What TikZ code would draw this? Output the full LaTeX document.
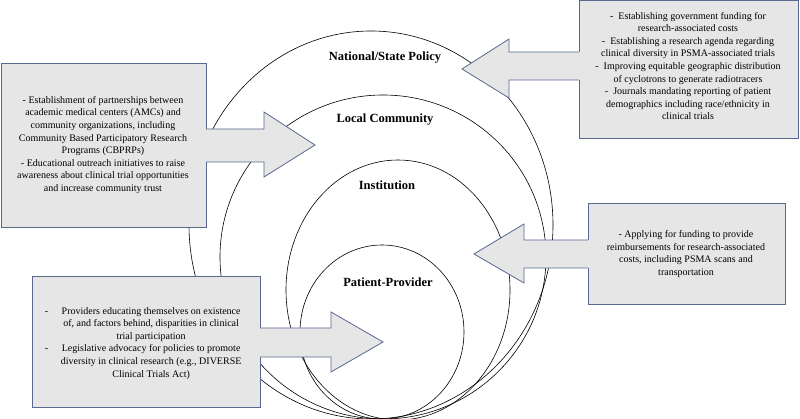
\documentclass[tikz,border=0pt]{standalone}
\usepackage{fontspec}
\usepackage{array}
\setmainfont{Liberation Serif}
\definecolor{bfill}{HTML}{E6E6E6}
\definecolor{bline}{HTML}{5A6890}
\begin{document}
\begin{tikzpicture}[x=1pt,y=-1pt,
  ring/.style={draw=black,line width=0.6pt},
  lvl/.style={font=\fontsize{12.5}{14}\selectfont\bfseries},
  box/.style={draw=bline,fill=bfill,line width=0.8pt},
  txt/.style={font=\fontsize{10}{12.6}\selectfont,align=center},
  arr/.style={fill=bfill},
  arrl/.style={draw=bline,line width=0.8pt,line join=miter}]
\useasboundingbox (0,0) rectangle (800,419);
\fill[white] (0,0) rectangle (800,419);
\draw[ring] (371,225) ellipse [x radius=182pt, y radius=194pt];
\draw[ring] (383,257) ellipse [x radius=163pt, y radius=162pt];
\draw[ring] (398,290) ellipse [x radius=112pt, y radius=130pt];
\draw[ring] (382,332) ellipse [x radius=82pt, y radius=87pt];
\node[lvl] (nat) at (385,58) {National/State Policy};
\node[lvl] (loc) at (385,120) {Local Community};
\node[lvl] (ins) at (387,185) {Institution};
\node[lvl] (pat) at (388,282) {Patient-Provider};
% top-right box and arrow
\draw[box] (579,0) rectangle (798,138);
\node[txt] (b1) at (688,66) {-\ \ Establishing government funding for\\research-associated costs\\-\ \ Establishing a research agenda regarding\\clinical diversity in PSMA-associated trials\\-\ \ Improving equitable geographic distribution\\of cyclotrons to generate radiotracers\\-\ \ Journals mandating reporting of patient\\demographics including race/ethnicity in\\clinical trials};
\fill[arr] (580,52) -- (509,52) -- (509,39) -- (462,69) -- (509,98) -- (509,80) -- (580,80) -- cycle;
\draw[arrl] (579,52) -- (509,52) -- (509,39) -- (462,69) -- (509,98) -- (509,80) -- (579,80);
% left box and arrow
\draw[box] (1,63) rectangle (206,227);
\node[txt] (b2) at (103,145) {- Establishment of partnerships between\\academic medical centers (AMCs) and\\community organizations, including\\Community Based Participatory Research\\Programs (CBPRPs)\\- Educational outreach initiatives to raise\\awareness about clinical trial opportunities\\and increase community trust};
\fill[arr] (205,129) -- (264,129) -- (264,112) -- (315,145) -- (264,177) -- (264,162) -- (205,162) -- cycle;
\draw[arrl] (206,129) -- (264,129) -- (264,112) -- (315,145) -- (264,177) -- (264,162) -- (206,162);
% right box and arrow
\draw[box] (588,203) rectangle (785,304);
\node[txt] (b3) at (686,254) {- Applying for funding to provide\\reimbursements for research-associated\\costs, including PSMA scans and\\transportation};
\fill[arr] (589,240) -- (524,240) -- (524,224) -- (474,254) -- (524,283) -- (524,268) -- (589,268) -- cycle;
\draw[arrl] (588,240) -- (524,240) -- (524,224) -- (474,254) -- (524,283) -- (524,268) -- (588,268);
% bottom-left box and arrow
\draw[box] (32,276) rectangle (260,407);
\node[font=\fontsize{10}{12.6}\selectfont] (b4) at (146,343) {\begin{tabular}{@{}c@{\hspace{7pt}}>{\centering\arraybackslash}p{192pt}@{}}
-&Providers educating themselves on existence\\
&of, and factors behind, disparities in clinical\\
&trial participation\\
-&Legislative advocacy for policies to promote\\
&diversity in clinical research (e.g., DIVERSE\\
&Clinical Trials Act)\end{tabular}};
\fill[arr] (259,328) -- (331,328) -- (331,312) -- (383,342) -- (331,372) -- (331,357) -- (259,357) -- cycle;
\draw[arrl] (260,328) -- (331,328) -- (331,312) -- (383,342) -- (331,372) -- (331,357) -- (260,357);
\end{tikzpicture}
\end{document}
